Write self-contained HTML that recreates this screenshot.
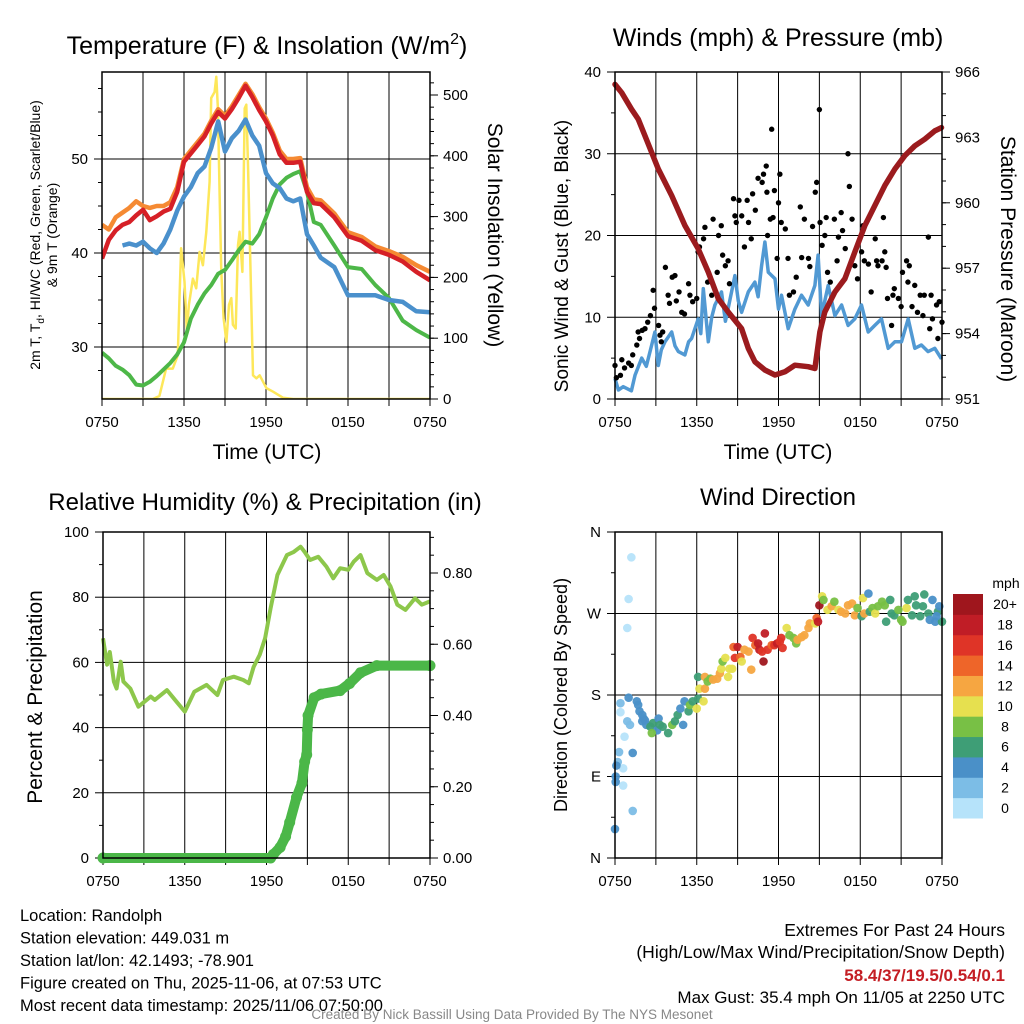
<!DOCTYPE html>
<html><head><meta charset="utf-8"><style>
html,body{margin:0;padding:0;background:#fff;}
svg{display:block;font-family:"Liberation Sans",Arial,sans-serif;}
</style></head><body>
<svg id="chart" width="1024" height="1024" viewBox="0 0 1024 1024" xmlns="http://www.w3.org/2000/svg"></svg>
<script>
// ---------- DATA ----------
const tempHours=[0,0.5,1,1.5,2,2.5,3,3.5,4,4.5,5,5.5,6,6.5,7,7.5,8,8.5,9,9.5,10,10.5,11,11.5,12,12.5,13,13.5,14,14.5,15,15.5,16,17,18,19,20,21,22,23,24];
const temp2m=[39.4,41.4,42.4,43.0,43.3,44.0,44.6,43.5,43.9,44.4,44.7,46.5,49.7,50.6,51.5,52.4,53.8,55.0,54.3,55.3,56.5,57.8,56.6,55.2,54.0,52.5,50.5,49.6,49.6,49.7,46.5,45.3,45.2,43.8,41.8,41.3,40.3,39.8,39.1,38.0,37.1];
const temp9m=[43.0,42.5,43.8,44.3,44.8,45.5,45.0,44.8,45.0,45.0,45.4,47.0,50.0,50.9,51.8,52.7,54.1,55.3,54.6,55.6,56.8,58.0,56.9,55.5,54.3,52.8,50.9,50.0,50.0,50.1,47.0,45.7,45.6,44.2,42.2,41.7,40.7,40.2,39.6,38.7,38.0];
const hiwc=[null,null,null,40.8,41.0,40.8,41.2,40.5,40.0,41.0,42.5,44.5,46.0,47.0,48.5,49.2,51.2,54.0,50.8,52.2,53.0,54.2,52.5,51.4,48.5,47.4,46.9,45.8,45.5,45.8,42.0,40.8,39.5,38.5,35.5,35.5,35.5,35.0,34.8,33.8,33.7];
const dewpt=[29.4,28.8,28.0,27.6,27.0,26.0,25.9,26.3,26.9,27.6,28.3,29.2,30.5,33.0,34.5,35.7,36.6,37.8,38.2,39.2,40.3,41.2,41.0,42.0,43.8,45.8,47.3,48.0,48.4,48.7,46.5,43.3,43.0,40.8,38.5,38.3,36.6,35.2,32.8,31.8,31.0];
const solarHours=[0,3.72,4.2,4.69,5.18,5.55,5.67,5.79,6.04,6.21,6.36,6.65,6.89,7.14,7.38,7.63,7.87,7.99,8.24,8.36,8.48,8.61,8.73,8.9,9.1,9.29,9.46,9.58,9.78,9.95,10.07,10.27,10.44,10.56,10.68,10.86,11.05,11.3,11.54,12.03,12.52,13.25,13.99,24];
const solar=[0,0,5,50,50,72,166,248,193,111,155,198,182,242,220,275,357,495,505,530,478,330,209,133,94,155,166,122,116,253,275,209,478,484,385,220,39,34,39,18,12,2,0,0];
const presHours=[0,0.49,1.22,1.71,2.2,3.18,4.16,5.13,6.11,6.85,7.58,8.31,9.29,9.78,10.27,11.0,11.74,12.47,13.2,14.18,14.67,15.04,15.4,16.14,16.87,17.6,18.34,19.07,19.8,20.54,21.27,22.0,22.74,23.47,23.96];
const pressure=[965.43,965.05,964.29,963.83,963.07,961.55,960.33,958.96,957.89,956.82,955.6,954.99,954.23,953.32,952.71,952.33,952.1,952.25,952.55,952.48,952.4,954.08,954.99,955.91,956.52,957.74,958.96,959.87,960.79,961.55,962.16,962.61,962.92,963.3,963.45];
const windHours=[0,0.25,0.6,1.2,1.47,1.96,2.3,2.69,2.93,3.18,3.4,3.67,4.16,4.4,4.65,5.13,5.4,5.62,6.11,6.3,6.48,6.85,7.1,7.33,7.82,8.1,8.31,8.8,9.05,9.29,9.78,10.27,10.5,10.76,11.0,11.25,11.74,12.0,12.22,12.71,13.2,13.69,14.18,14.67,14.91,15.16,15.65,16.14,16.63,17.11,17.6,18.09,18.58,19.07,19.56,20.05,20.54,21.03,21.52,22.0,22.49,22.98,23.47,23.96];
const sonic=[2.5,1.1,1.5,1.0,2.9,5.0,4.0,6.6,8.2,4.1,6.0,7.0,8.2,6.5,5.8,5.4,7.0,7.4,9.8,8.0,13.5,7.0,10.0,11.5,13.1,9.5,11.1,15.1,12.0,10.6,13.1,14.3,12.5,16.3,19.2,15.5,14.7,11.0,12.7,8.6,11.0,12.7,11.5,13.9,17.6,10.2,13.9,10.2,11.5,9.0,9.8,11.5,8.2,9.0,9.8,6.2,7.0,7.0,9.8,6.2,6.6,5.8,6.2,4.9];
const gustHours=[0,0.1,0.4,0.5,0.7,1.0,1.2,1.3,1.6,1.7,1.8,2.0,2.2,2.4,2.6,2.8,2.9,3.2,3.3,3.4,3.5,3.7,3.9,4.0,4.2,4.4,4.5,4.7,4.9,5.1,5.4,5.5,5.7,6.0,6.1,6.2,6.5,6.6,6.8,7.1,7.2,7.5,7.6,7.8,7.9,8.1,8.3,8.4,8.7,8.8,8.9,9.1,9.3,9.5,9.7,9.8,10.0,10.1,10.3,10.5,10.8,10.9,11.1,11.15,11.2,11.4,11.5,11.6,11.7,11.9,12.0,12.1,12.2,12.5,12.7,12.8,13.1,13.3,13.6,13.7,13.9,14.2,14.3,14.5,14.7,14.8,15.0,15.05,15.2,15.4,15.5,15.6,15.8,16.1,16.3,16.4,16.6,16.7,16.9,17.1,17.2,17.4,17.6,17.8,18.1,18.2,18.3,18.6,18.8,19.1,19.2,19.3,19.6,19.7,19.8,19.9,20.0,20.3,20.4,20.5,20.8,21.0,21.1,21.4,21.5,21.6,21.8,22.0,22.2,22.4,22.6,22.7,23.0,23.1,23.2,23.3,23.6,23.7,23.8,24.0];
const gust=[4.1,2.6,2.9,4.8,3.8,4.4,4.1,5.4,6.6,8.2,7.4,8.4,8.6,9.4,10.2,13.3,11.1,9.0,7.8,7.0,8.2,16.1,12.7,11.7,14.9,15.1,12.0,13.1,10.6,10.4,14.1,12.7,11.9,12.3,18.0,18.6,19.6,21.0,14.3,12.7,22.0,15.5,20.0,21.2,17.6,16.3,16.9,14.1,24.5,22.4,21.6,24.3,22.4,18.6,24.3,21.6,19.6,25.1,23.1,27.0,26.5,27.5,28.5,25.3,20.0,22.0,33.0,22.2,25.5,17.2,24.0,27.5,21.6,20.8,17.2,12.7,13.1,14.9,23.5,17.3,22.0,17.2,16.2,21.1,25.3,26.5,35.4,21.6,18.8,20.0,22.2,15.5,14.3,22.0,16.9,19.8,22.8,20.6,18.4,30.0,26.0,22.0,16.3,14.7,18.0,21.2,16.9,16.5,13.1,19.6,16.9,16.3,16.9,22.2,18.0,16.1,12.3,9.0,12.7,13.5,12.3,11.3,15.5,16.9,14.3,16.3,11.3,13.9,10.6,12.7,10.2,12.7,19.8,8.6,12.7,9.8,11.5,7.4,11.9,9.4];
const rhHours=[0,0.3,0.5,0.8,1.0,1.3,1.5,2.0,2.6,3.5,3.8,4.7,5.4,6.0,6.7,7.6,8.4,8.8,9.6,10.3,10.7,11.05,11.5,11.9,12.3,12.8,13.5,14.0,14.5,14.8,15.2,15.8,16.4,16.9,17.4,18.0,18.4,18.9,19.4,20.1,20.6,21.1,21.6,22.2,22.9,23.4,24];
const rh=[67.4,59.3,63.2,54.1,52.0,60.2,54.1,52.0,46.4,49.5,48.5,51.5,47.9,44.9,51.0,53.1,50.0,54.6,55.6,54.6,53.6,58.6,62.3,67.4,76.6,86.8,92.9,93.9,95.5,93.9,91.4,92.4,89.4,85.8,88.9,88.4,90.9,92.9,87.4,85.3,86.8,83.3,77.7,76.1,79.7,77.7,78.7];
const precipHours=[0,12.3,12.5,13.0,13.4,13.7,14.2,14.6,14.8,14.95,15.0,15.05,15.5,16.0,17.4,18.1,18.9,20.1,24];
const precip=[0,0,0.01,0.03,0.06,0.10,0.17,0.21,0.27,0.29,0.36,0.40,0.45,0.46,0.47,0.49,0.52,0.54,0.54];
const dirHours=[0.05,1.2,1.0,0.9,0.4,0.4,0.9,1.1,0.7,0.3,0.2,0.6,0.6,1.3,0,0.05,0.1,1.3,1.0,1.6,1.7,1.8,2.0,2.1,2.2,2.0,2.3,2.6,2.8,3.1,3.2,3.3,2.7,3.5,3.9,4.2,4.4,4.6,4.8,5.0,5.1,5.4,5.5,5.7,6.0,6.1,6.1,6.2,6.5,6.6,6.6,6.8,7.0,7.2,7.5,7.7,7.8,7.9,8.1,8.3,8.4,8.6,8.7,8.8,9.0,9.2,9.3,9.5,9.8,10.0,10.1,10.3,10.5,10.6,10.8,10.9,11.0,11.2,11.5,11.7,11.9,12.1,12.2,12.3,12.6,12.8,13.1,13.3,13.4,13.7,13.9,14.2,14.3,14.7,14.8,14.9,15.0,15.2,15.3,15.6,15.9,16.1,16.4,16.6,16.9,17.1,17.4,17.6,17.8,18.1,18.2,18.3,18.6,18.7,18.9,19.1,19.3,19.6,19.8,19.9,20.2,20.3,20.5,20.8,21.0,21.1,21.4,21.5,21.8,22.0,22.1,22.4,22.6,22.7,23.0,23.1,23.3,23.5,23.7,23.8,24.0,23.6];
const dirDeg=[90,332,286,254,171,161,151,147,134,117,106,99,80,52,32,84,102,116,177,173,169,162,158,154,152,151,147,145,149,141,154,147,138,145,138,147,151,158,165,147,173,162,169,173,165,176,200,187,173,187,200,195,198,197,198,204,209,217,221,200,209,209,233,221,233,222,217,230,228,208,243,235,237,230,228,217,248,230,235,235,237,239,243,232,254,246,243,237,241,244,246,254,259,259,265,261,279,289,285,274,278,283,274,272,270,279,281,268,276,267,287,270,292,272,276,270,278,283,279,261,285,270,268,274,263,261,276,285,268,289,279,267,278,291,270,263,285,261,272,278,261,267];
const dirSpeed=[3,0,0,0,1,0,1,1,0,1,1,0,0,1,3,3,3,3,3,4,4,4,4,4,4,4,4,5,6,4,4,6,7,6,6,7,6,6,4,4,4,6,7,6,9,6,6,10,9,12,12,8,7,11,12,12,10,8,10,10,10,10,14,15,17,14,10,12,12,12,15,14,17,17,15,19,18,15,14,15,17,16,15,15,10,8,8,8,12,12,12,12,12,10,14,17,19,10,8,10,12,7,10,12,12,12,11,12,7,6,10,12,4,6,8,10,7,8,8,5,6,6,6,8,7,7,10,6,6,6,6,5,6,6,6,4,4,4,6,4,6,4];
const speedColors=["#b6e3fa","#7cbde6","#4a90c8","#3e9e76","#78c045","#e6e04f","#f6a641","#ee6529","#df3427","#c01d26","#9f161d"];
const speedLabels=["0","2","4","6","8","10","12","14","16","18","20+"];
const xTickLabels=["0750","1350","1950","0150","0750"];

// ---------- HELPERS ----------
const NS="http://www.w3.org/2000/svg";
const svg=document.getElementById("chart");
function el(tag,attrs,parent){const e=document.createElementNS(NS,tag);for(const k in attrs)e.setAttribute(k,attrs[k]);(parent||svg).appendChild(e);return e;}
function txt(s,x,y,size,anchor,parent,extra){const t=el("text",Object.assign({x:x,y:y,"font-size":size,"text-anchor":anchor||"middle",fill:"#000"},extra||{}),parent);t.textContent=s;return t;}
function lin(d0,d1,r0,r1){return v=>r0+(v-d0)*(r1-r0)/(d1-d0);}
function pathFrom(xs,ys,fx,fy){let d="",pen=false;for(let i=0;i<xs.length;i++){if(ys[i]===null){pen=false;continue;}d+=(pen?"L":"M")+fx(xs[i]).toFixed(1)+","+fy(ys[i]).toFixed(1);pen=true;}return d;}

function frame(P,name){
  const g=el("g",{});
  
  
  const fx=lin(0,24,P.x0,P.x1);
  for(let h=3;h<24;h+=3){const l=el("line",{x1:fx(h),x2:fx(h),y1:P.y0,y2:P.y1,stroke:"#000","stroke-width":1},g);
    
    }
  for(let h=0;h<=24;h+=3){const l=el("line",{x1:fx(h),x2:fx(h),y1:P.y1,y2:P.y1+7,stroke:"#000","stroke-width":1},g);
    
    }
  for(let i=0;i<5;i++){const t=txt(xTickLabels[i],fx(i*6),P.y1+28,15,"middle",g);
    
    }
  return {g,fx};
}
function leftAxis(P,g,fy,majors,labels,minors,gridVals){
  gridVals.forEach(v=>{const l=el("line",{x1:P.x0,x2:P.x1,y1:fy(v),y2:fy(v),stroke:"#000","stroke-width":1},g);
    
    });
  majors.forEach((v,i)=>{const l=el("line",{x1:P.x0-8,x2:P.x0,y1:fy(v),y2:fy(v),stroke:"#000","stroke-width":1},g);
    
    
    const t=txt(labels[i],P.x0-14,fy(v)+5,15,"end",g);
    
    });
  minors.forEach(v=>{const l=el("line",{x1:P.x0-4,x2:P.x0,y1:fy(v),y2:fy(v),stroke:"#000","stroke-width":1},g);
    
    });
}
function rightAxis(P,g,fy,majors,labels,minors){
  majors.forEach((v,i)=>{const l=el("line",{x1:P.x1,x2:P.x1+8,y1:fy(v),y2:fy(v),stroke:"#000","stroke-width":1},g);
    
    
    const t=txt(labels[i],P.x1+13,fy(v)+5,15,"start",g);
    
    });
  minors.forEach(v=>{const l=el("line",{x1:P.x1,x2:P.x1+4,y1:fy(v),y2:fy(v),stroke:"#000","stroke-width":1},g);
    
    });
}
function border(P,g){const r=el("rect",{x:P.x0,y:P.y0,width:P.x1-P.x0,height:P.y1-P.y0,fill:"none",stroke:"#000","stroke-width":1.5},g);
  
  }
function range(a,b,s){const r=[];for(let v=a;v<=b+1e-9;v+=s)r.push(+v.toFixed(4));return r;}

// ---------- PANEL 1 ----------
{
const P={x0:102,x1:430,y0:72,y1:399};
const {g,fx}=frame(P,"temperature-panel");
const fy=lin(40,50,253,159);
const fs=lin(0,500,399,95);
leftAxis(P,g,fy,[30,40,50],["30","40","50"],[27.5,32.5,35,37.5,42.5,45,47.5,52.5,55,57.5],[30,40,50]);
rightAxis(P,g,fs,[0,100,200,300,400,500],["0","100","200","300","400","500"],range(20,520,20));
const cl=el("clipPath",{id:"c1"},g);el("rect",{x:P.x0,y:P.y0,width:P.x1-P.x0,height:P.y1-P.y0},cl);
const sg=el("g",{"clip-path":"url(#c1)"},g);
const s1=el("path",{d:pathFrom(solarHours,solar,fx,fs),fill:"none",stroke:"#fde75a","stroke-width":2.5,"stroke-linejoin":"round"},sg);


const s2=el("path",{d:pathFrom(tempHours,dewpt,fx,fy),fill:"none",stroke:"#4db748","stroke-width":4,"stroke-linejoin":"round"},sg);


const s3=el("path",{d:pathFrom(tempHours,temp9m,fx,fy),fill:"none",stroke:"#f58a33","stroke-width":4.5,"stroke-linejoin":"round"},sg);


const s4=el("path",{d:pathFrom(tempHours,hiwc,fx,fy),fill:"none",stroke:"#4a90cc","stroke-width":4.5,"stroke-linejoin":"round"},sg);


const s5=el("path",{d:pathFrom(tempHours,temp2m,fx,fy),fill:"none",stroke:"#d62027","stroke-width":4.5,"stroke-linejoin":"round"},sg);


border(P,g);
const t=el("text",{x:267,y:54,"font-size":25,"text-anchor":"middle"},g);
t.innerHTML='Temperature (F) &amp; Insolation (W/m<tspan dy="-10" font-size="16">2</tspan><tspan dy="10">)</tspan>';


const xl=txt("Time (UTC)",267,459,21,"middle",g);


const yl=el("text",{transform:"translate(40,235) rotate(-90)","font-size":14,"text-anchor":"middle"},g);
yl.innerHTML='2m T, T<tspan dy="4" font-size="10">d</tspan><tspan dy="-4">, HI/WC (Red, Green, Scarlet/Blue)</tspan>';


const yl2=txt("& 9m T (Orange)",0,0,14,"middle",g,{transform:"translate(57,235) rotate(-90)"});


const yr=txt("Solar Insolation (Yellow)",0,0,21,"middle",g,{transform:"translate(488,235) rotate(90)"});


}

// ---------- PANEL 2 ----------
{
const P={x0:615,x1:942,y0:72,y1:399};
const {g,fx}=frame(P,"winds-panel");
const fy=lin(0,40,399,72);
const fp=lin(951,966,399,72);
leftAxis(P,g,fy,[0,10,20,30,40],["0","10","20","30","40"],[5,15,25,35],[10,20,30]);
rightAxis(P,g,fp,[951,954,957,960,963,966],["951","954","957","960","963","966"],range(952,965,1));
const w=el("path",{d:pathFrom(windHours,sonic,fx,fy),fill:"none",stroke:"#5199d3","stroke-width":3.5,"stroke-linejoin":"round"},g);


for(let i=0;i<gust.length;i++){const c=el("circle",{cx:fx(gustHours[i]),cy:fy(gust[i]),r:2.7,fill:"#000"},g);
  
  }
const p=el("path",{d:pathFrom(presHours,pressure,fx,fp),fill:"none",stroke:"#9b1b1e","stroke-width":5.5,"stroke-linejoin":"round","stroke-linecap":"round"},g);


border(P,g);
const t=txt("Winds (mph) & Pressure (mb)",778,46,25,"middle",g);


const xl=txt("Time (UTC)",778,459,21,"middle",g);


const yl=txt("Sonic Wind & Gust (Blue, Black)",0,0,19,"middle",g,{transform:"translate(568,256) rotate(-90)"});


const yr=txt("Station Pressure (Maroon)",0,0,21,"middle",g,{transform:"translate(1001,259) rotate(90)"});


}

// ---------- PANEL 3 ----------
{
const P={x0:103,x1:430,y0:532,y1:858};
const {g,fx}=frame(P,"humidity-panel");
const fy=lin(0,100,858,532);
const fr=lin(0,0.8,858,573);
leftAxis(P,g,fy,[0,20,40,60,80,100],["0","20","40","60","80","100"],[10,30,50,70,90],[20,40,60,80]);
rightAxis(P,g,fr,[0,0.2,0.4,0.6,0.8],["0.00","0.20","0.40","0.60","0.80"],range(0.05,0.9,0.05));
const r=el("path",{d:pathFrom(rhHours,rh,fx,fy),fill:"none",stroke:"#8dc74b","stroke-width":4,"stroke-linejoin":"round"},g);


const pl=el("path",{d:pathFrom(precipHours,precip,fx,fr),fill:"none",stroke:"#4bb748","stroke-width":10,"stroke-linejoin":"round","stroke-linecap":"round"},g);


for(let i=0;i<precip.length;i++){const c=el("circle",{cx:fx(precipHours[i]),cy:fr(precip[i]),r:5.5,fill:"#4bb748"},g);
  
  }
border(P,g);
const t=txt("Relative Humidity (%) & Precipitation (in)",265,510,24,"middle",g);


const yl=txt("Percent & Precipitation",0,0,21,"middle",g,{transform:"translate(42,697) rotate(-90)"});


}

// ---------- PANEL 4 ----------
{
const P={x0:615,x1:942,y0:532,y1:858};
const {g,fx}=frame(P,"wind-direction-panel");
const fy=lin(0,360,858,532);
leftAxis(P,g,fy,[0,90,180,270,360],["N","E","S","W","N"],[45,135,225,315],[90,180,270]);
for(let i=0;i<dirDeg.length;i++){
  const idx=Math.min(10,Math.max(0,Math.round(dirSpeed[i]/2)));
  const c=el("circle",{cx:fx(dirHours[i]),cy:fy(dirDeg[i]),r:4.3,fill:speedColors[idx],"fill-opacity":0.95},g);
  
  }
border(P,g);
const t=txt("Wind Direction",778,505,24,"middle",g);


const yl=txt("Direction (Colored By Speed)",0,0,18,"middle",g,{transform:"translate(567,695) rotate(-90)"});


const cb=el("g",{},g);


const h=224/11;
for(let i=0;i<11;i++){
  const y=594+(10-i)*h;
  const rr=el("rect",{x:953,y:y,width:30,height:h+0.5,fill:speedColors[i]},cb);
  
  
  const lt=txt(speedLabels[i],1005,y+h/2+5,14,"middle",cb);
  
  
}
const mu=txt("mph",1006,588,14,"middle",cb);


}

// ---------- FOOTER ----------
{
const g=el("g",{});


const left=["Location: Randolph","Station elevation: 449.031 m","Station lat/lon: 42.1493; -78.901","Figure created on Thu, 2025-11-06, at 07:53 UTC","Most recent data timestamp: 2025/11/06 07:50:00"];
left.forEach((s,i)=>{const t=txt(s,20,921+i*22.5,16.5,"start",g);
  
  });
const a=txt("Extremes For Past 24 Hours",1005,936,17.5,"end",g);


const b=txt("(High/Low/Max Wind/Precipitation/Snow Depth)",1005,958,17.5,"end",g);


const c=txt("58.4/37/19.5/0.54/0.1",1005,981,17,"end",g,{fill:"#c41e24","font-weight":"bold"});


const d=txt("Max Gust: 35.4 mph On 11/05 at 2250 UTC",1005,1003,17,"end",g);


const e=txt("Created By Nick Bassill Using Data Provided By The NYS Mesonet",512,1019,13.5,"middle",g,{fill:"#888"});


}
</script>
</body></html>
